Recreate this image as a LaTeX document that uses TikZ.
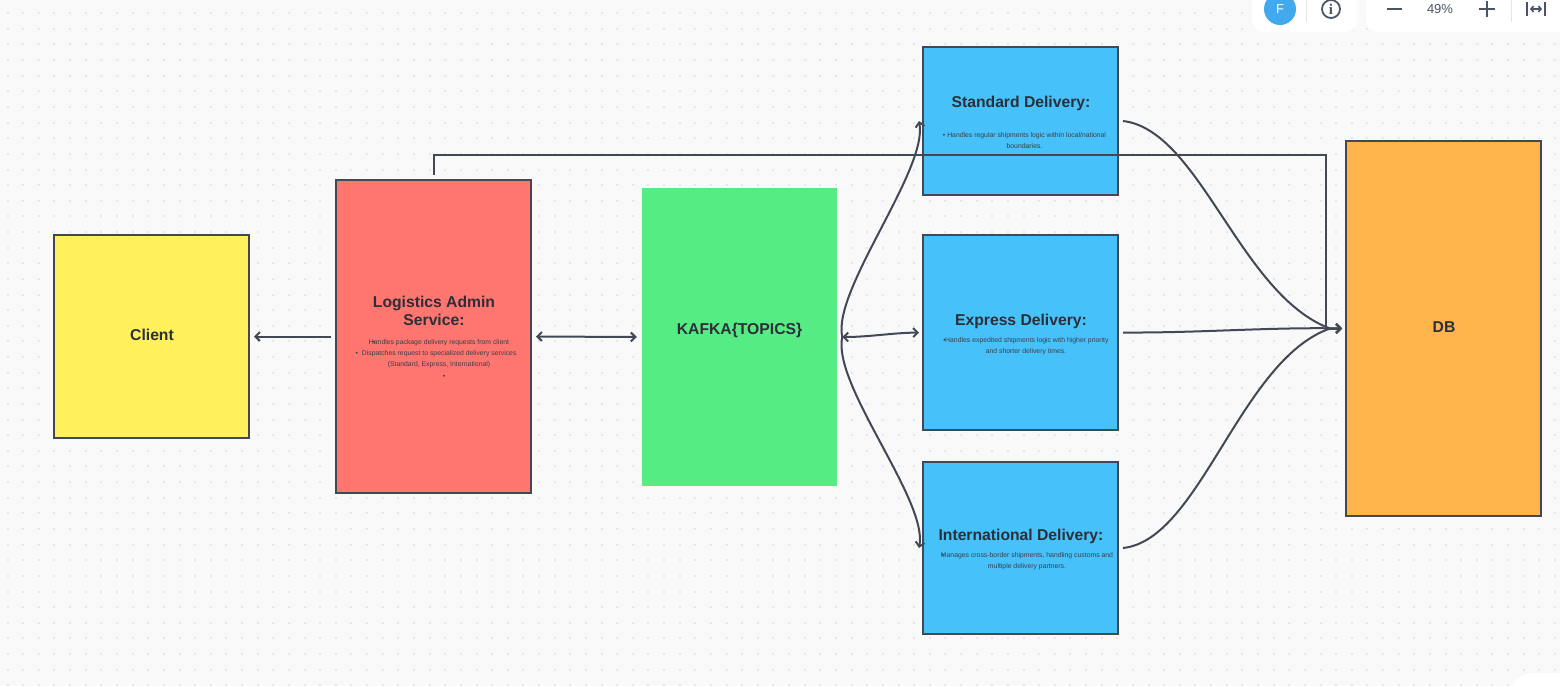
\documentclass[tikz,border=0pt]{standalone}
\usepackage{fontspec}
\setmainfont{Liberation Sans}
\newfontfamily\uiserif{Liberation Serif}
\usetikzlibrary{arrows.meta}
\definecolor{canvasbg}{HTML}{F9F9F9}
\definecolor{griddot}{HTML}{E6E6E6}
\definecolor{linecol}{HTML}{424955}
\definecolor{headcol}{HTML}{2A2F38}
\definecolor{bodycol}{HTML}{3A3F4A}
\definecolor{clientcol}{HTML}{FFF05C}
\definecolor{admincol}{HTML}{FF7570}
\definecolor{kafkacol}{HTML}{55ED83}
\definecolor{delivcol}{HTML}{47C1F9}
\definecolor{dbcol}{HTML}{FFB54C}
\definecolor{avatarcol}{HTML}{41A9EE}
\definecolor{uicol}{HTML}{4B5563}
\begin{document}
\begin{tikzpicture}[x=1pt,y=-1pt]
\tikzset{
 box/.style={draw=linecol, line width=2pt, inner sep=0pt, outer sep=0pt, minimum width=195pt},
 heading/.style={text=headcol, font=\fontsize{15.7}{18}\selectfont\bfseries, align=center, inner sep=0pt},
 bodytext/.style={text=bodycol, font=\fontsize{6.85}{11}\selectfont, align=center, inner sep=0pt},
 tip/.style={-{Straight Barb[length=4.5pt,width=9pt]}},
 link/.style={draw=linecol, line width=2pt},
 uiline/.style={draw=uicol, line width=1.8pt},
 uisep/.style={draw=black!10, line width=0.8pt},
}
\useasboundingbox (0,0) rectangle (1560,686);
\fill[canvasbg] (0,0) rectangle (1560,686);
\foreach \i in {0,...,99}
  \foreach \j in {0,...,43}
    \fill[griddot] ({6.6+15.63*\i},{12.2+15.63*\j}) rectangle ++(2,2);

% boxes
\node[box, fill=clientcol, minimum height=203pt] (client) at (151.5,336.5) {};
\node[box, fill=admincol, minimum height=313pt] (admin) at (433.5,336.5) {};
\node[fill=kafkacol, inner sep=0pt, outer sep=0pt, minimum width=195.5pt, minimum height=297.5pt] (kafka) at (739.5,337) {};
\node[box, fill=delivcol, minimum height=148pt] (standard) at (1020.5,121) {};
\node[box, fill=delivcol, minimum height=195pt] (express) at (1020.5,332.5) {};
\node[box, fill=delivcol, minimum height=172pt] (international) at (1020.5,548) {};
\node[box, fill=dbcol, minimum height=375pt] (db) at (1443.5,328.5) {};

% texts
\node[heading] (clientname) at (152,335) {Client};
\node[heading] (adminname) at (434,311) {Logistics Admin\\Service:};
\node[bodytext] (adminone) at (439,342.5) {\rlap{\kern4pt•}Handles package delivery requests from client};
\node[bodytext] (admintwo) at (436,353.5) {•\kern4pt Dispatches request to specialized delivery services};
\node[bodytext] (adminthree) at (439,364.5) {(Standard, Express, International)};
\node[bodytext] (adminfour) at (444,377) {•};
\node[heading] (kafkaname) at (739.5,330) {KAFKA\{TOPICS\}};
\node[heading] (standardname) at (1021,103) {Standard Delivery:};
\node[bodytext] (standardtext) at (1024.5,140.5) {• Handles regular shipments logic within local/national\\boundaries.};
\node[heading] (expressname) at (1021,321) {Express Delivery:};
\node[bodytext] (expresstext) at (1026,346.5) {•\kern-0.6pt Handles expedited shipments logic with higher priority\\and shorter delivery times.};
\node[heading] (internationalname) at (1021,536) {International Delivery:};
\node[bodytext] (internationaltext) at (1027,561.5) {\rlap{\kern1pt•}Manages cross-border shipments, handling customs and\\multiple delivery partners.};
\node[heading] (dbname) at (1444,327.5) {DB};

% connector ends
\coordinate (kafkaport) at ([xshift=5pt]kafka.east);
\coordinate (dbport) at ([xshift=-4pt]db.west);
\coordinate (dbjoin) at ([xshift=-16pt]db.west);
\coordinate (standardin) at ([xshift=-4pt]standard.west);
\coordinate (expressin) at ([xshift=-4pt]express.west);
\coordinate (internationalin) at ([xshift=-4pt]international.west);
\coordinate (standardout) at ([xshift=5pt]standard.east);
\coordinate (expressout) at ([xshift=5pt]express.east);
\coordinate (internationalout) at ([xshift=5pt]international.east);
\coordinate (adminup) at ([yshift=5pt]admin.north);
\coordinate (adminleft) at ([xshift=-5pt]admin.west);
\coordinate (adminright) at ([xshift=5pt]admin.east);
\coordinate (clientin) at ([xshift=5pt]client.east);
\coordinate (kafkain) at ([xshift=-5pt]kafka.west);

% connectors
\draw[link, tip] (adminleft) -- (clientin);
\draw[link, {Straight Barb[length=4.5pt,width=9pt]}-{Straight Barb[length=4.5pt,width=9pt]}] (adminright) -- (kafkain);
\draw[link, tip] (kafkaport) .. controls (832,290) and (928,170) .. (standardin);
\draw[link, {Straight Barb[length=4.5pt,width=9pt]}-{Straight Barb[length=4.5pt,width=9pt]}] (kafkaport) .. controls (870,337) and (890,333) .. (expressin);
\draw[link, tip] (kafkaport) .. controls (832,385) and (928,500) .. (internationalin);
\draw[link, tip] (standardout) .. controls (1200,130) and (1240,295) .. (dbjoin) -- (dbport);
\draw[link, tip] (expressout) .. controls (1200,333) and (1270,327) .. (dbport);
\draw[link, tip] (internationalout) .. controls (1200,540) and (1240,360) .. (dbjoin) -- (dbport);
\draw[link, tip] (adminup) -- (433.5,155) -- (1326,155) -- (1326,328.5) -- (dbport);

% toolbar
\fill[white, rounded corners=12pt] (1252,-20) rectangle (1357,32);
\fill[white, rounded corners=12pt] (1366,-20) rectangle (1600,32);
\fill[white, rounded corners=22pt] (1510,720) -- (1510,673) -- (1600,673) -- (1600,720) -- cycle;
\node[circle, fill=avatarcol, text=white, minimum size=32pt, inner sep=0pt, font=\fontsize{13}{15}\selectfont] (avatar) at (1280,9) {F};
\draw[uisep] (1306,-2) -- (1306,22);
\node[circle, draw=uicol, line width=1.8pt, minimum size=18pt, inner sep=0pt, text=uicol, font=\fontsize{15}{15}\selectfont\uiserif\bfseries] (info) at (1331,9) {i};
\draw[uiline] (1387,9) -- (1402,9);
\node[text=uicol, inner sep=0pt, font=\fontsize{13}{15}\selectfont] (zoomlevel) at (1440,9) {49\%};
\draw[uiline] (1479,9) -- (1495,9) (1487,1) -- (1487,17);
\draw[uisep] (1511,-2) -- (1511,22);
\draw[uiline, line width=2pt] (1527,2) -- (1527,16) (1545,2) -- (1545,16);
\draw[uiline, line width=1.6pt, {Straight Barb[length=2.5pt,width=6pt]}-{Straight Barb[length=2.5pt,width=6pt]}] (1530,9) -- (1542,9);
\end{tikzpicture}
\end{document}
